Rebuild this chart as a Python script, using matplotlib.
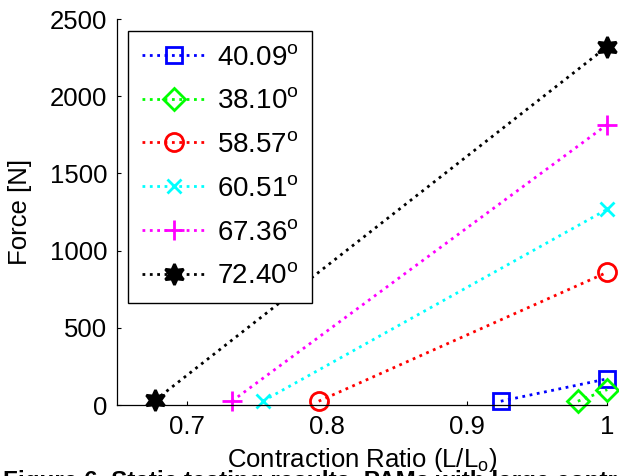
import matplotlib
matplotlib.use("Agg")
import matplotlib.pyplot as plt

plt.rcParams['font.family'] = ['Liberation Sans', 'DejaVu Sans']
plt.rcParams['mathtext.fontset'] = 'custom'
plt.rcParams['mathtext.rm'] = 'Liberation Sans'
plt.rcParams['mathtext.it'] = 'Liberation Sans:italic'

# contraction ratio (L/L0) and force [N] for each braid angle
angles = ['40.09', '38.10', '58.57', '60.51', '67.36', '72.40']
ratio_40 = [0.924, 1.0]
force_40 = [25, 170]
ratio_38 = [0.979, 1.0]
force_38 = [25, 100]
ratio_58 = [0.794, 1.0]
force_58 = [25, 860]
ratio_60 = [0.754, 1.0]
force_60 = [25, 1268]
ratio_67 = [0.732, 1.0]
force_67 = [25, 1817]
ratio_72 = [0.677, 1.0]
force_72 = [30, 2322]

series = [(ratio_40, force_40), (ratio_38, force_38), (ratio_58, force_58),
          (ratio_60, force_60), (ratio_67, force_67), (ratio_72, force_72)]
colors = ['#0000ff', '#00ff00', '#ff0000', '#00ffff', '#ff00ff', '#000000']
markers = ['s', 'D', 'o', 'x', '+', (6, 1, 0)]
msizes = [11, 11, 13, 10, 14, 15]

fig = plt.figure(figsize=(6.19, 4.76), dpi=100)
ax = fig.add_axes([0.189, 0.149, 0.792, 0.811])

for (xs, ys), c, m, ms, a in zip(series, colors, markers, msizes, angles):
    filled = m == (6, 1, 0)
    ax.plot(xs, ys, linestyle=':', color=c, linewidth=2, marker=m,
            markersize=ms, markeredgewidth=2,
            markerfacecolor=c if filled else 'none', markeredgecolor=c,
            clip_on=False, label=a + r'$^{\mathrm{o}}$')

ax.set_xlim(0.65, 1.0)
ax.set_ylim(0, 2500)
ax.set_xticks([0.7, 0.8, 0.9, 1.0])
ax.set_xticklabels(['0.7', '0.8', '0.9', '1'])
ax.set_yticks([0, 500, 1000, 1500, 2000, 2500])
ax.tick_params(direction='in', length=3, width=0.8, labelsize=18.5, pad=7)
for side in ['top', 'right']:
    ax.spines[side].set_visible(False)
for side in ['left', 'bottom']:
    ax.spines[side].set_linewidth(0.9)

ax.set_xlabel('Contraction Ratio (L/L$_{\\mathrm{o}}$)', fontsize=18.5, labelpad=5)
ax.set_ylabel('Force [N]', fontsize=18.5, labelpad=13)

leg = ax.legend(loc='upper left', bbox_to_anchor=(0.022, 0.97), fontsize=20,
                handlelength=2.3, labelspacing=0.64, borderpad=0.5,
                handletextpad=0.4, fancybox=False, framealpha=1, borderaxespad=0)
leg.get_frame().set_edgecolor('black')
leg.get_frame().set_linewidth(1.0)

# caption of the paper figure, cut off at the bottom edge as in the source
fig.text(0.005, -0.026, 'Figure 6. Static testing results, PAMs with large contraction',
         fontsize=17.5, fontweight='bold', ha='left', va='baseline')

fig.savefig('out.png', dpi=100)
